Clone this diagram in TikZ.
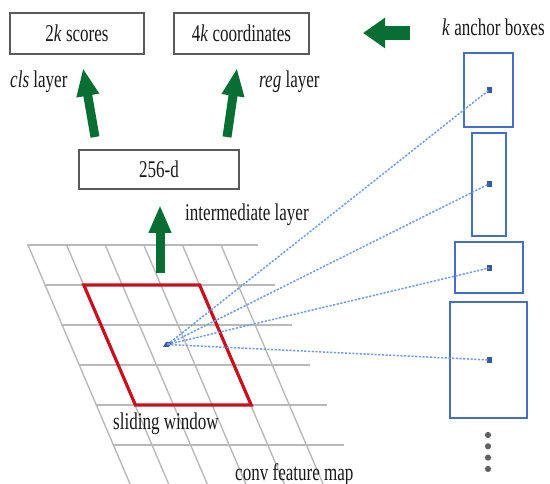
\documentclass[tikz,border=0pt]{standalone}
\usepackage{fontspec}
\setmainfont{Liberation Serif}
\usetikzlibrary{arrows.meta}
\definecolor{arrgreen}{RGB}{8,110,52}
\definecolor{winred}{RGB}{200,16,30}
\definecolor{anchorblue}{RGB}{70,110,200}
\definecolor{dotblue}{RGB}{115,155,222}
\definecolor{gridgray}{RGB}{185,185,185}
\definecolor{boxgray}{RGB}{90,90,90}
\definecolor{textc}{RGB}{25,25,25}
\newcommand{\sq}[1]{\scalebox{0.71}[1]{#1}}
\tikzset{
  txt/.style={font=\fontsize{24}{28}\selectfont, text=textc, inner sep=0pt},
  layerbox/.style={draw=boxgray, line width=1.2pt, txt, inner sep=0pt},
  bigarrow/.style={draw=arrgreen, line width=9pt, -{Triangle[length=28pt,width=21pt]}},
  anchorbox/.style={draw=anchorblue, line width=1.4pt},
  anchordot/.style={fill=anchorblue!80!black, minimum width=5pt, minimum height=6pt, inner sep=0pt},
  raylink/.style={draw=dotblue, line width=1.5pt, dash pattern=on 2.2pt off 1.5pt},
  gridline/.style={draw=gridgray, line width=1.4pt},
}
\begin{document}
\begin{tikzpicture}[x=1pt,y=-1pt]
\useasboundingbox (0,0) rectangle (550,484);
\clip (0,0) rectangle (550,484);
% conv feature map grid
\foreach \i in {0,...,5}{
  \draw[gridline] ({27+17.2*\i},{245+40*\i}) -- ({258+17.2*\i},{245+40*\i});
}
\foreach \j in {0,...,5}{
  \draw[gridline] ({28+38.6*\j},245) -- ({28+38.6*\j+0.427*245},490);
}
% sliding window
\draw[winred, line width=3.2pt, line join=miter]
  (83.8,285) -- (199.6,285) -- (251.2,405) -- (135.4,405) -- cycle;
% center of window
\node[fill=anchorblue!80!black, minimum width=6pt, minimum height=5pt, inner sep=0pt, xslant=0.6] (ctr) at (167.5,344.5) {};
% boxes
\node[layerbox, minimum width=134pt, minimum height=41pt] (scores) at (77,33.5) {\sq{2\textit{k} scores}};
\node[layerbox, minimum width=135pt, minimum height=41pt] (coords) at (241.5,33.5) {\sq{4\textit{k} coordinates}};
\node[layerbox, minimum width=160pt, minimum height=39pt] (inter) at (159,169.5) {\sq{256-d}};
% labels
\node[txt, anchor=base west] (cls) at (10,88) {\sq{\textit{cls} layer}};
\node[txt, anchor=base west] (reg) at (259,88) {\sq{\textit{reg} layer}};
\node[txt, anchor=base west] (interlbl) at (185,221) {\sq{intermediate layer}};
\node[txt, anchor=base west] (kanch) at (442,36) {\sq{\textit{k} anchor boxes}};
\node[txt, anchor=base west] (slide) at (113,430) {\sq{sliding window}};
\node[txt, anchor=base west] (conv) at (235,480) {\sq{conv feature map}};
% green arrows
\coordinate (clsT) at (95,137);
\coordinate (clsH) at (83,68);
\coordinate (regT) at (227,137);
\coordinate (regH) at (237,68);
\coordinate (intT) at (160,273);
\coordinate (intH) at (160,205);
\coordinate (ancT) at (410,33);
\coordinate (ancH) at (363,33);
\draw[bigarrow] (clsT) -- (clsH);
\draw[bigarrow] (regT) -- (regH);
\draw[bigarrow] (intT) -- (intH);
\draw[draw=arrgreen, line width=14pt, -{Triangle[length=22pt,width=29pt]}] (ancT) -- (ancH);
% anchor boxes
\draw[anchorbox] (464,53) rectangle (513,127);
\draw[anchorbox] (472,133) rectangle (506,236);
\draw[anchorbox] (455,242) rectangle (523,293);
\draw[anchorbox] (450,302) rectangle (527,418);
\node[anchordot] (a1) at (489,90) {};
\node[anchordot] (a2) at (489,184) {};
\node[anchordot] (a3) at (489,268) {};
\node[anchordot] (a4) at (489,360) {};
\foreach \a in {a1,a2,a3,a4}{
  \draw[raylink] (ctr.center) -- (\a.center);
}
% more anchors
\foreach \k in {0,...,3}{
  \fill[black!62] (488,{435+11.3*\k}) circle (3.1pt);
}
\end{tikzpicture}
\end{document}
